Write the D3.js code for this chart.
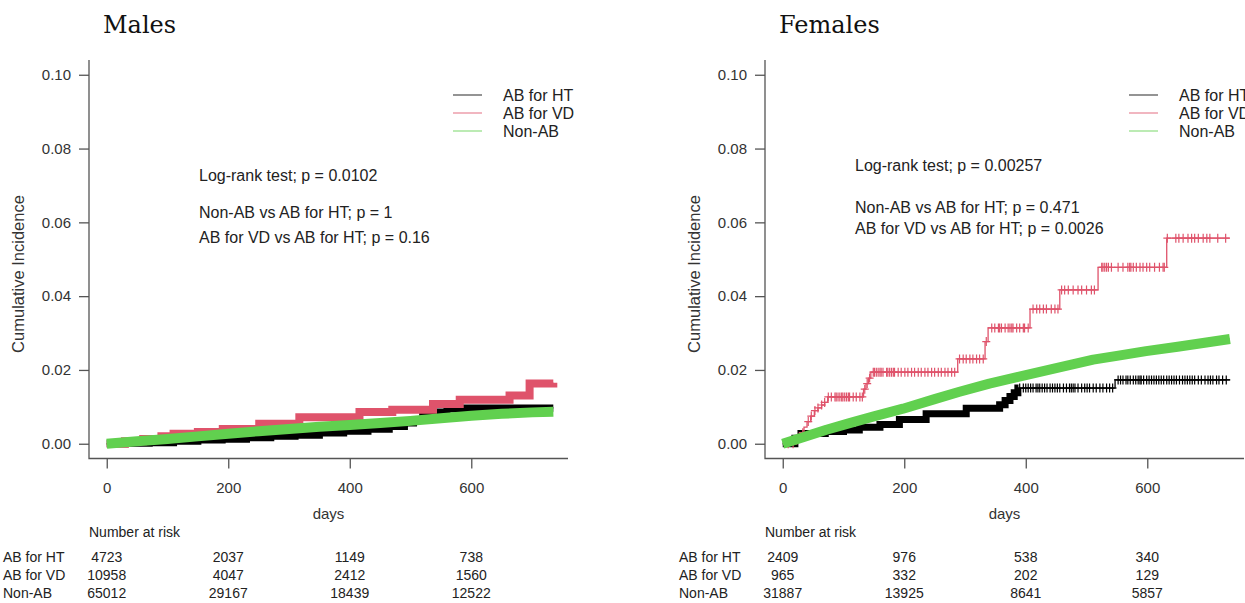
<!DOCTYPE html>
<html>
<head>
<meta charset="utf-8">
<script src="https://cdn.jsdelivr.net/npm/d3@7/dist/d3.min.js"></script>
<style>
  html, body { margin: 0; padding: 0; background: #fff; }
  svg { display: block; }
</style>
</head>
<body>
<div id="chart"></div>
<script>
// ---- data ----
const groups = ["AB for HT", "AB for VD", "Non-AB"];
const xTickDays = [0, 200, 400, 600];
const yTickValues = [0, 0.02, 0.04, 0.06, 0.08, 0.10];

// Males: step curves [day, cumulative incidence]
const maleHT = [[0,0],[30,0.0001],[70,0.0003],[110,0.0007],[150,0.001],[190,0.0012],[230,0.0016],[270,0.002],[310,0.0023],[350,0.0029],[390,0.0034],[430,0.0039],[465,0.0047],[490,0.0056],[505,0.0066],[520,0.0076],[540,0.0086],[560,0.0094],[590,0.0097],[735,0.0097]];
const maleVD = [[0,0],[30,0.0007],[60,0.0013],[90,0.002],[110,0.0027],[150,0.0032],[191,0.004],[251,0.0054],[317,0.0072],[416,0.0086],[470,0.0092],[537,0.0108],[581,0.0119],[663,0.0131],[696,0.0163],[735,0.0165]];
const maleNon = [[0,0],[50,0.0007],[100,0.0013],[150,0.002],[200,0.0027],[250,0.0034],[300,0.004],[350,0.0046],[400,0.0051],[450,0.0056],[500,0.0062],[550,0.0069],[600,0.0076],[650,0.0081],[700,0.0085],[735,0.0087]];

// Females
const femHT = [[0,0],[20,0.0015],[30,0.0028],[70,0.0033],[100,0.0037],[126,0.0045],[160,0.0052],[192,0.0066],[236,0.0081],[302,0.0096],[357,0.0106],[366,0.0117],[374,0.0128],[381,0.0138],[387,0.0151],[547,0.0173],[736,0.0173]];
const femVD = [[0,0],[23,0.0015],[29,0.003],[35,0.0045],[40,0.006],[46,0.0075],[52,0.009],[58,0.0097],[64,0.0105],[69,0.0112],[74,0.0127],[133,0.0148],[137,0.0163],[141,0.0178],[145,0.0194],[288,0.023],[333,0.0277],[338,0.0314],[407,0.0365],[456,0.0417],[519,0.0478],[632,0.0557],[736,0.0557]];
const femNon = [[0,0],[36,0.0019],[72,0.0038],[110,0.0056],[150,0.0074],[198,0.0095],[250,0.0121],[291,0.0141],[340,0.0163],[400,0.0186],[450,0.0205],[511,0.0228],[550,0.0238],[598,0.0251],[650,0.0263],[700,0.0275],[736,0.0284]];

// censoring times (days) visible as "+" marks
const femVDCensor = [9,17,25,33,42,47,53,58,64,69,75,80,86,88,91,94,97,99,102,105,108,110,116,121,127,131,135,139,143,
  149,151,154,157,160,162,165,171,173,176,179,182,184,190,195,201,206,212,217,223,228,234,239,245,250,256,261,267,272,278,283,
  291,297,302,308,313,319,324,330,335,344,349,355,357,360,366,371,374,377,379,385,390,396,398,404,
  412,418,423,429,434,442,448,453,459,464,470,478,486,492,500,508,513,
  525,527,530,533,536,541,552,560,568,571,573,577,582,588,593,599,604,612,620,626,628,
  633,647,652,659,667,673,678,684,692,698,703,716,729];
const femHTCensor = [390,396,400,404,408,412,417,420,423,427,431,435,440,444,448,452,456,462,467,472,475,478,481,486,492,497,501,505,511,516,522,527,533,538,543,
  552,556,560,565,568,572,577,581,585,588,590,594,599,603,607,611,615,619,623,627,632,636,640,644,648,653,658,662,666,670,674,678,684,689,695,700,704,708,714,718,724,730];

// numbers at risk at 0, 200, 400, 600 days
const maleRiskHT = [4723, 2037, 1149, 738];
const maleRiskVD = [10958, 4047, 2412, 1560];
const maleRiskNon = [65012, 29167, 18439, 12522];
const femRiskHT = [2409, 976, 538, 340];
const femRiskVD = [965, 332, 202, 129];
const femRiskNon = [31887, 13925, 8641, 5857];

const maleTests = ["Log-rank test; p = 0.0102", "Non-AB vs AB for HT; p = 1", "AB for VD vs AB for HT; p = 0.16"];
const femTests = ["Log-rank test; p = 0.00257", "Non-AB vs AB for HT; p = 0.471", "AB for VD vs AB for HT; p = 0.0026"];

// ---- styling ----
const colors = { "AB for HT": "#000000", "AB for VD": "#DF536B", "Non-AB": "#61D04F" };
const W = 1245, H = 603;
const sansFont = "'Liberation Sans', Arial, sans-serif";

const svg = d3.select("#chart").append("svg")
  .attr("width", W)
  .attr("height", H)
  .style("background", "#fff");

function stepValue(steps, t) {
  const i = d3.bisector(d => d[0]).right(steps, t) - 1;
  return steps[Math.max(0, i)][1];
}

function drawPanel(opts) {
  const g = svg.append("g").attr("transform", `translate(${opts.dx},0)`);

  const x = d3.scaleLinear().domain([-29.2, 759.2]).range([89, 568]);
  const y = d3.scaleLinear().domain([-0.004, 0.104]).range([458.5, 60]);

  // title
  g.append("text")
    .attr("x", 103).attr("y", 33)
    .attr("font-family", "'DejaVu Serif', 'Liberation Serif', serif")
    .attr("font-size", 24)
    .attr("fill", "#111")
    .text(opts.title);

  // L-shaped box
  g.append("path")
    .attr("d", `M${x.range()[0]},${y.range()[1]}V${y.range()[0]}H${x.range()[1]}`)
    .attr("fill", "none")
    .attr("stroke", "#555")
    .attr("stroke-width", 1.3);

  const yAxis = g.append("g")
    .attr("transform", `translate(${x.range()[0]},0)`)
    .call(d3.axisLeft(y).tickValues(yTickValues).tickSize(10).tickPadding(8).tickFormat(d3.format(".2f")));
  const xAxis = g.append("g")
    .attr("transform", `translate(0,${y.range()[0]})`)
    .call(d3.axisBottom(x).tickValues(xTickDays).tickSize(10).tickPadding(14));
  [xAxis, yAxis].forEach(a => {
    a.select(".domain").remove();
    a.selectAll(".tick line").attr("stroke", "#555").attr("stroke-width", 1.3);
    a.selectAll(".tick text").attr("fill", "#333").attr("font-size", 15).attr("font-family", sansFont);
  });

  // axis titles
  g.append("text")
    .attr("x", (x.range()[0] + x.range()[1]) / 2).attr("y", 513)
    .attr("text-anchor", "middle").attr("dominant-baseline", "central")
    .attr("font-family", sansFont).attr("font-size", 15).attr("fill", "#333")
    .text("days");
  g.append("text")
    .attr("transform", `translate(18,274) rotate(-90)`)
    .attr("text-anchor", "middle").attr("dominant-baseline", "central")
    .attr("font-family", sansFont).attr("font-size", 16.5).attr("fill", "#333")
    .text("Cumulative Incidence");

  // curves (drawn black, red, green so green sits on top)
  const line = d3.line().curve(d3.curveStepAfter).x(d => x(d[0])).y(d => y(d[1]));
  const smoothLine = d3.line().x(d => x(d[0])).y(d => y(d[1]));
  const plot = g.append("g");

  opts.series.forEach(s => {
    const col = colors[s.name];
    const gen = s.smooth ? smoothLine : line;
    // thin step line
    plot.append("path")
      .attr("d", gen(s.steps))
      .attr("fill", "none")
      .attr("stroke", col)
      .attr("stroke-width", 1.3);
    // dense censoring shows as a solid band
    if (s.band) {
      const part = s.steps.filter(d => d[0] <= s.bandTo);
      if (part[part.length - 1][0] < s.bandTo) part.push([s.bandTo, stepValue(s.steps, s.bandTo)]);
      plot.append("path")
        .attr("d", gen(part))
        .attr("fill", "none")
        .attr("stroke", col)
        .attr("stroke-width", s.band)
        .attr("stroke-linejoin", s.smooth ? "round" : "miter");
    }
    // individual "+" marks
    if (s.censor) {
      const marks = plot.append("g").attr("stroke", col).attr("stroke-width", 1.2);
      s.censor.forEach(t => {
        const cx = x(t), cy = y(stepValue(s.steps, t));
        marks.append("path").attr("d", `M${cx - 4},${cy}H${cx + 4}M${cx},${cy - 4.5}V${cy + 4.5}`);
      });
    }
  });

  // legend
  const lg = g.append("g");
  groups.forEach((name, i) => {
    const ly = 95 + i * 18;
    lg.append("line")
      .attr("x1", 453).attr("x2", 482).attr("y1", ly).attr("y2", ly)
      .attr("stroke", colors[name]).attr("stroke-width", 1.2).attr("opacity", 0.7);
    lg.append("text")
      .attr("x", 503).attr("y", ly)
      .attr("dominant-baseline", "central")
      .attr("font-family", sansFont).attr("font-size", 16).attr("fill", "#222")
      .text(name);
  });

  // test results
  opts.tests.forEach((t, i) => {
    g.append("text")
      .attr("x", opts.testX).attr("y", opts.testY[i])
      .attr("font-family", sansFont).attr("font-size", 16).attr("fill", "#222")
      .text(t);
  });

  // number at risk table
  g.append("text")
    .attr("x", x.range()[0]).attr("y", 532)
    .attr("dominant-baseline", "central")
    .attr("font-family", sansFont).attr("font-size", 14).attr("fill", "#222")
    .text("Number at risk");
  opts.risk.forEach((row, r) => {
    const ry = 557 + r * 18;
    g.append("text")
      .attr("x", 3).attr("y", ry)
      .attr("dominant-baseline", "central")
      .attr("font-family", sansFont).attr("font-size", 14).attr("fill", "#222")
      .text(groups[r]);
    row.forEach((v, j) => {
      g.append("text")
        .attr("x", x(xTickDays[j])).attr("y", ry)
        .attr("text-anchor", "middle").attr("dominant-baseline", "central")
        .attr("font-family", sansFont).attr("font-size", 14).attr("fill", "#222")
        .text(v);
    });
  });
}

drawPanel({
  dx: 0,
  title: "Males",
  series: [
    { name: "AB for HT", steps: maleHT, band: 7, bandTo: 735 },
    { name: "AB for VD", steps: maleVD, band: 8, bandTo: 735 },
    { name: "Non-AB", steps: maleNon, band: 10, bandTo: 735, smooth: true }
  ],
  tests: maleTests,
  testX: 199,
  testY: [181, 218, 243],
  risk: [maleRiskHT, maleRiskVD, maleRiskNon]
});

drawPanel({
  dx: 676,
  title: "Females",
  series: [
    { name: "AB for HT", steps: femHT, band: 7, bandTo: 388, censor: femHTCensor },
    { name: "AB for VD", steps: femVD, censor: femVDCensor },
    { name: "Non-AB", steps: femNon, band: 10, bandTo: 736, smooth: true }
  ],
  tests: femTests,
  testX: 179,
  testY: [171, 213, 234],
  risk: [femRiskHT, femRiskVD, femRiskNon]
});
</script>
</body>
</html>
